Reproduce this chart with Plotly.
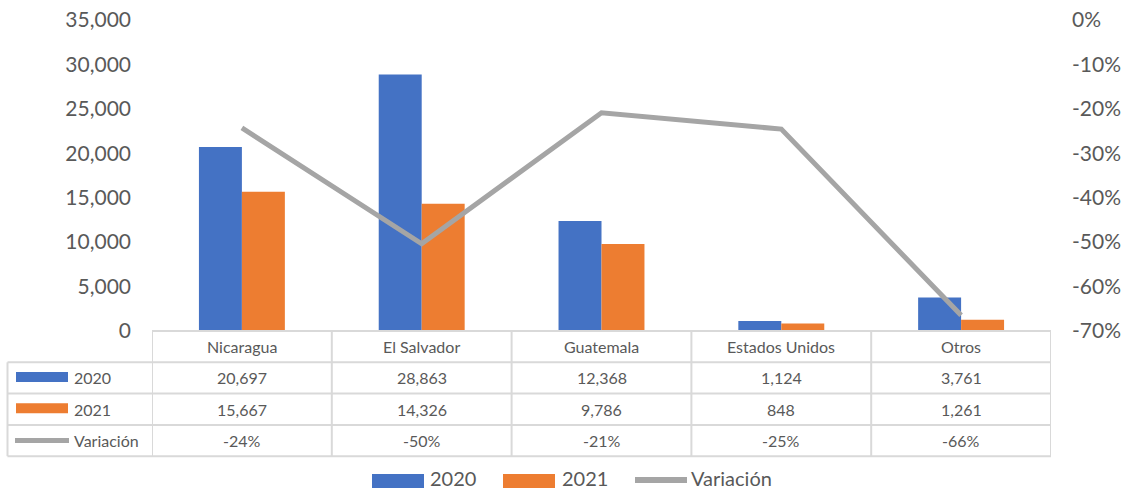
import plotly.graph_objects as go

categories = ["Nicaragua", "El Salvador", "Guatemala", "Estados Unidos", "Otros"]
values_2020 = [20697, 28863, 12368, 1124, 3761]
values_2021 = [15667, 14326, 9786, 848, 1261]
variacion = [-0.2430, -0.5036, -0.2088, -0.2456, -0.6647]
series_names = ["2020", "2021", "Variación"]
left_ticks = [0, 5000, 10000, 15000, 20000, 25000, 30000, 35000]
right_ticks = [0, -0.1, -0.2, -0.3, -0.4, -0.5, -0.6, -0.7]
right_tick_text = ["0%", "-10%", "-20%", "-30%", "-40%", "-50%", "-60%", "-70%"]

BLUE = "#4472C4"
ORANGE = "#ED7D31"
GRAY = "#A5A5A5"
TXT = "#595959"
GRID = "#D9D9D9"
FONT = "Lato"

W, H = 1126, 490
PL, PR, PT, PB = 152, 1051, 20, 331
pw, ph = PR - PL, PB - PT


def px(x):
    return (x - PL) / pw


def py(y):
    return (PB - y) / ph


fig = go.Figure()
fig.add_trace(go.Bar(x=categories, y=values_2020, name=series_names[0],
                     marker=dict(color=BLUE, line=dict(width=0))))
fig.add_trace(go.Bar(x=categories, y=values_2021, name=series_names[1],
                     marker=dict(color=ORANGE, line=dict(width=0))))
fig.add_trace(go.Scatter(x=categories, y=variacion, name=series_names[2], yaxis="y2",
                         mode="lines", line=dict(color=GRAY, width=5)))

shapes = []
annotations = []

# Table geometry (pixels)
row_lines = [331, 362.3, 393.6, 424.9, 456.2]
n = len(categories)

# horizontal lines
shapes.append(dict(type="line", xref="x", yref="paper", x0=-0.5, x1=n - 0.5,
                   y0=py(row_lines[0]), y1=py(row_lines[0]), line=dict(color=GRID, width=2)))
for yl in row_lines[1:]:
    shapes.append(dict(type="line", xref="paper", yref="paper", x0=px(7.5), x1=1,
                       y0=py(yl), y1=py(yl), line=dict(color=GRID, width=2)))
# vertical lines
shapes.append(dict(type="line", xref="paper", yref="paper", x0=px(7.5), x1=px(7.5),
                   y0=py(row_lines[1]), y1=py(row_lines[-1]), line=dict(color=GRID, width=2)))
for i in range(n + 1):
    shapes.append(dict(type="line", xref="x", yref="paper", x0=i - 0.5, x1=i - 0.5,
                       y0=py(row_lines[0]), y1=py(row_lines[-1]), line=dict(color=GRID, width=2)))

centers = [(row_lines[k] + row_lines[k + 1]) / 2 for k in range(4)]

# header
for i, c in enumerate(categories):
    annotations.append(dict(x=i, y=py(centers[0]), xref="x", yref="paper", text=c,
                            showarrow=False, xanchor="center", yanchor="middle",
                            font=dict(family=FONT, size=16, color=TXT)))
rows = [
    [f"{v:,}" for v in values_2020],
    [f"{v:,}" for v in values_2021],
    [f"{v:.0%}" for v in variacion],
]
for r, row in enumerate(rows):
    for i, t in enumerate(row):
        annotations.append(dict(x=i, y=py(centers[r + 1]), xref="x", yref="paper", text=t,
                                showarrow=False, xanchor="center", yanchor="middle",
                                font=dict(family=FONT, size=16, color=TXT)))
    annotations.append(dict(x=px(72), y=py(centers[r + 1]), xref="paper", yref="paper",
                            text=series_names[r], showarrow=False, xanchor="left",
                            yanchor="middle", font=dict(family=FONT, size=16, color=TXT)))

# table legend keys
for r, col in enumerate([BLUE, ORANGE]):
    cy = centers[r + 1] - 1
    shapes.append(dict(type="rect", xref="paper", yref="paper", x0=px(16), x1=px(68),
                       y0=py(cy - 5), y1=py(cy + 5), fillcolor=col, line=dict(width=0)))
shapes.append(dict(type="line", xref="paper", yref="paper", x0=px(15), x1=px(69),
                   y0=py(centers[3]), y1=py(centers[3]), line=dict(color=GRAY, width=5)))

# bottom legend
ly = 481
shapes.append(dict(type="rect", xref="paper", yref="paper", x0=px(372), x1=px(424),
                   y0=py(ly - 7), y1=py(ly + 7), fillcolor=BLUE, line=dict(width=0)))
shapes.append(dict(type="rect", xref="paper", yref="paper", x0=px(503), x1=px(555),
                   y0=py(ly - 7), y1=py(ly + 7), fillcolor=ORANGE, line=dict(width=0)))
shapes.append(dict(type="line", xref="paper", yref="paper", x0=px(635), x1=px(687),
                   y0=py(ly - 1), y1=py(ly - 1), line=dict(color=GRAY, width=6)))
for xx, t in zip([429, 561, 690], series_names):
    annotations.append(dict(x=px(xx), y=py(477.5), xref="paper", yref="paper", text=t,
                            showarrow=False, xanchor="left", yanchor="middle",
                            borderpad=0,
                            font=dict(family=FONT, size=20, color=TXT)))

fig.update_layout(
    width=W, height=H,
    margin=dict(l=PL, r=W - PR, t=PT, b=H - PB, autoexpand=False),
    paper_bgcolor="white", plot_bgcolor="white",
    barmode="group", bargap=0.522, bargroupgap=0,
    showlegend=False,
    font=dict(family=FONT, color=TXT),
    xaxis=dict(showticklabels=False, showgrid=False, showline=False, zeroline=False,
               range=[-0.5, n - 0.5], ticks=""),
    yaxis=dict(range=[0, 35000], tickvals=left_ticks, tickformat=",", showgrid=False,
               zeroline=False, showline=False, ticks="", ticklabelstandoff=20,
               tickfont=dict(family=FONT, size=21, color=TXT)),
    yaxis2=dict(range=[-0.7, 0], tickvals=right_ticks, ticktext=right_tick_text,
                overlaying="y", side="right", showgrid=False, zeroline=False,
                showline=False, ticks="", ticklabelstandoff=20,
                tickfont=dict(family=FONT, size=21, color=TXT)),
    shapes=shapes,
    annotations=annotations,
)

fig.write_html(
    "out.html",
    config={"displayModeBar": False},
    post_script="document.body.style.margin='0';document.body.style.padding='0';"
                "document.body.style.overflow='hidden';",
)
